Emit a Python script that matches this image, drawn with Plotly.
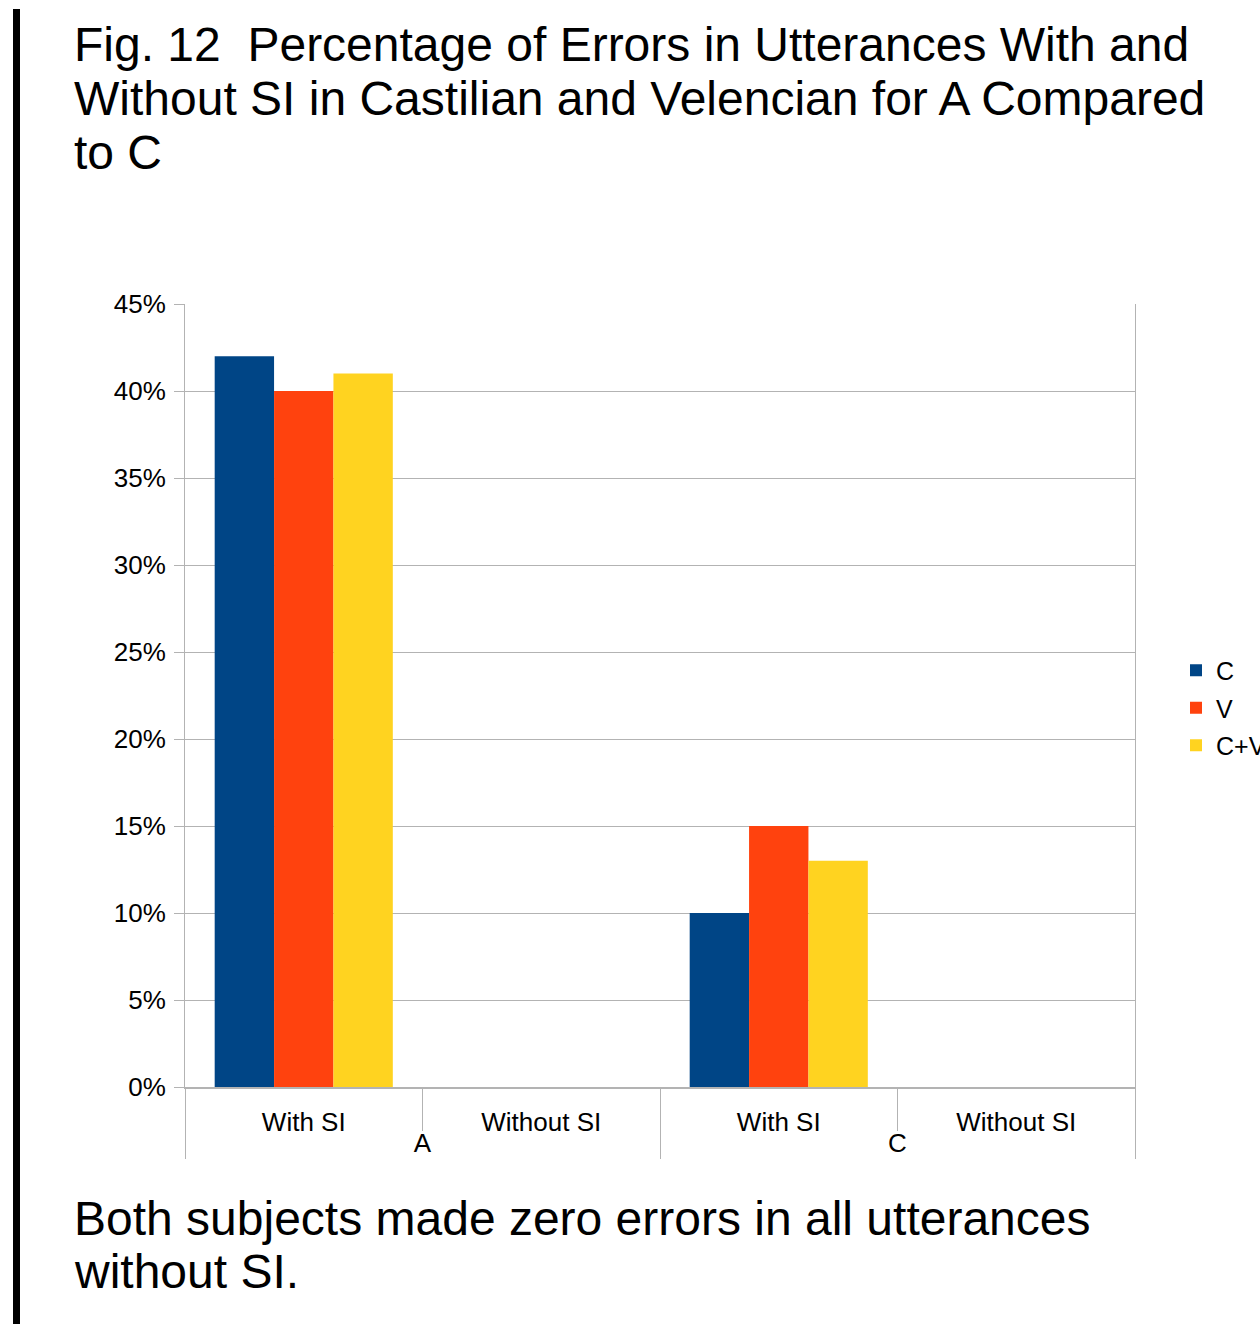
import plotly.graph_objects as go

# Grouped categories: subject (outer) and condition (inner)
subjects = ["A", "A", "C", "C"]
conditions = ["With SI", "Without SI", "With SI", "Without SI"]

# Error percentages per language series
series_names = ["C", "V", "C+V"]
c_vals = [42, 0, 10, 0]
v_vals = [40, 0, 15, 0]
cv_vals = [41, 0, 13, 0]

colors = ["#004586", "#ff420e", "#ffd320"]

title_lines = [
    "Fig. 12  Percentage of Errors in Utterances With and",
    "Without SI in Castilian and Velencian for A Compared",
    "to C",
]
caption_lines = [
    "Both subjects made zero errors in all utterances",
    "without SI.",
]

y_ticks = [0, 5, 10, 15, 20, 25, 30, 35, 40, 45]
y_tick_text = [f"{t}%" for t in y_ticks]

W, H = 1260, 1324
L, R, T, B = 185, 125, 304, 237
PW, PH = W - L - R, H - T - B


def px_x(x):
    return (x - L) / PW


def px_y(y):
    return (H - B - y) / PH


FONT = "Liberation Sans, Arial, sans-serif"
GRID = "#b3b3b3"

fig = go.Figure()
for name, vals, col in zip(series_names, [c_vals, v_vals, cv_vals], colors):
    fig.add_trace(go.Bar(
        x=[subjects, conditions], y=vals, name=name, legendgroup=name,
        marker=dict(color=col, line=dict(width=0)),
    ))

annotations = []
for i, line in enumerate(title_lines):
    annotations.append(dict(
        text=line, xref="paper", yref="paper", x=px_x(72), y=px_y(45 + 53.5 * i),
        xanchor="left", yanchor="middle", showarrow=False,
        font=dict(family=FONT, size=48, color="black"),
    ))
for i, line in enumerate(caption_lines):
    annotations.append(dict(
        text=line, xref="paper", yref="paper", x=px_x(72), y=px_y(1218 + 53 * i),
        xanchor="left", yanchor="middle", showarrow=False,
        font=dict(family=FONT, size=48, color="black"),
    ))

fig.update_layout(
    width=W, height=H,
    margin=dict(l=L, r=R, t=T, b=B, autoexpand=False),
    paper_bgcolor="white", plot_bgcolor="white",
    barmode="group", bargap=0.25, bargroupgap=0,
    font=dict(family=FONT, color="black", size=26),
    showlegend=True,
    legend=dict(
        x=px_x(1176), y=px_y(708), xanchor="left", yanchor="middle",
        font=dict(size=25, family=FONT), itemwidth=30, tracegroupgap=2,
        bgcolor="rgba(0,0,0,0)",
    ),
    annotations=annotations,
    shapes=[dict(
        type="rect", xref="paper", yref="paper",
        x0=px_x(13), x1=px_x(20), y0=px_y(1324), y1=px_y(9),
        fillcolor="black", line=dict(width=0), layer="above",
    )],
)

fig.update_yaxes(
    range=[0, 45], tickvals=y_ticks, ticktext=y_tick_text,
    showgrid=True, gridcolor=GRID, gridwidth=1,
    showline=True, linecolor=GRID, linewidth=1, mirror=True,
    ticks="outside", ticklen=10, tickcolor=GRID, ticklabelstandoff=3,
    tickfont=dict(size=26, family=FONT, color="black"),
    zeroline=False,
)
fig.update_xaxes(
    type="multicategory",
    showline=True, linecolor=GRID, linewidth=2,
    ticks="outside", ticklen=42, tickcolor=GRID, tickson="boundaries",
    ticklabelstandoff=11,
    showdividers=True, dividercolor=GRID, dividerwidth=1,
    tickfont=dict(size=26, family=FONT, color="black"),
)

fig.write_html("out.html")
